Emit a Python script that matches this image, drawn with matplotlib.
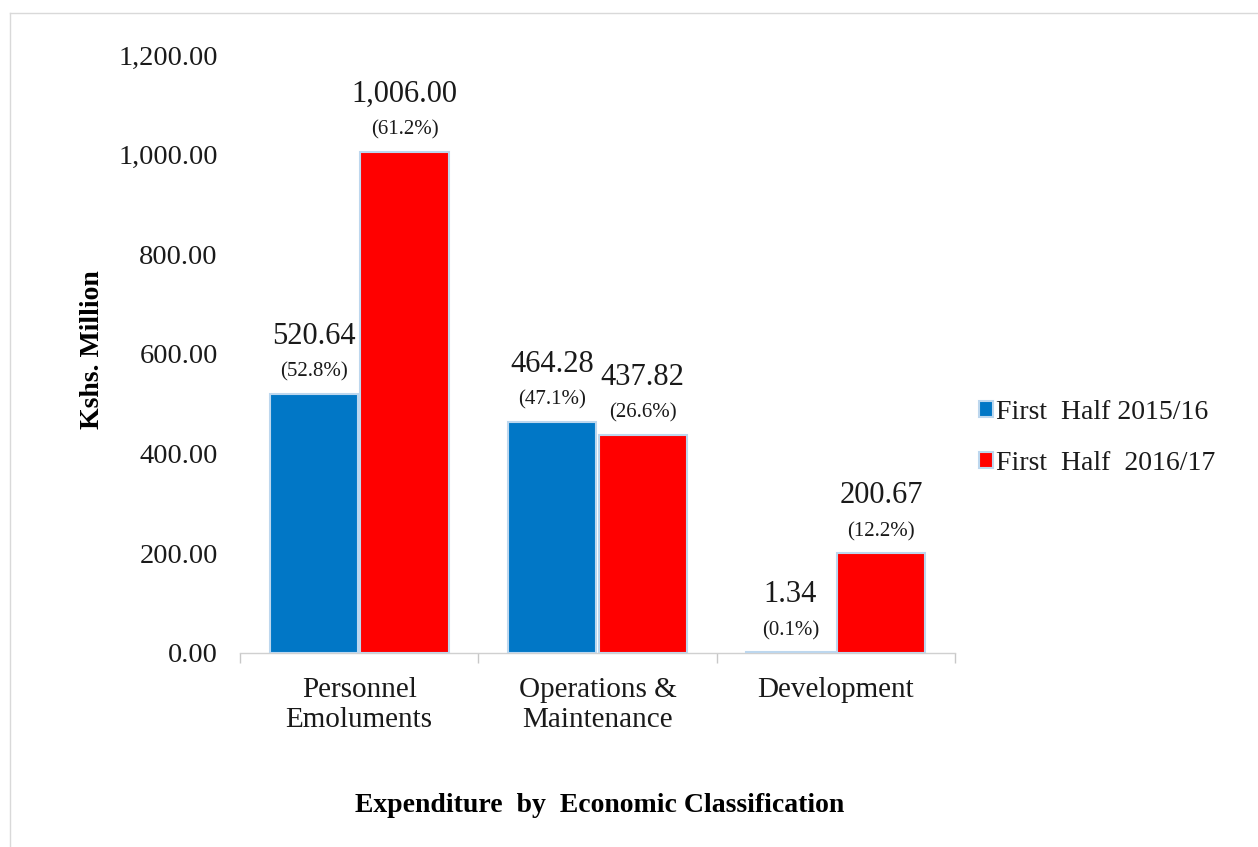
import matplotlib
matplotlib.use("Agg")
import matplotlib.pyplot as plt
from matplotlib.lines import Line2D
from matplotlib.ticker import FuncFormatter, FixedLocator
import numpy as np

categories = ["Personnel\nEmoluments", "Operations &\nMaintenance", "Development"]
series_names = ["First  Half 2015/16", "First  Half  2016/17"]
values_2015 = [520.64, 464.28, 1.34]
values_2016 = [1006.00, 437.82, 200.67]
pct_2015 = ["(52.8%)", "(47.1%)", "(0.1%)"]
pct_2016 = ["(61.2%)", "(26.6%)", "(12.2%)"]
yticks = [0, 200, 400, 600, 800, 1000, 1200]

plt.rcParams["font.family"] = ["Liberation Serif", "DejaVu Serif"]

W, H = 1258, 847
fig = plt.figure(figsize=(W / 100, H / 100), dpi=100)
ax = fig.add_axes([240 / W, 1 - 653 / H, 715 / W, 598 / H])

x = np.arange(len(categories))
bw = 0.37
off = 0.19
colors = ["#0177C6", "#FF0000"]
edge = "#BDD7EE"

b1 = ax.bar(x - off, values_2015, bw, color=colors[0], edgecolor=edge, linewidth=1.5,
            label=series_names[0], zorder=3)
b2 = ax.bar(x + off, values_2016, bw, color=colors[1], edgecolor=edge, linewidth=1.5,
            label=series_names[1], zorder=3)

txtc = "#1a1a1a"
for bars, vals, pcts in [(b1, values_2015, pct_2015), (b2, values_2016, pct_2016)]:
    for rect, v, p in zip(bars, vals, pcts):
        cx = rect.get_x() + rect.get_width() / 2
        top = rect.get_height()
        ax.annotate(p, (cx, top), xytext=(0, 12), textcoords="offset pixels",
                    ha="center", va="bottom", fontsize=15, color=txtc)
        ax.annotate(f"{v:,.2f}", (cx, top), xytext=(0, 43), textcoords="offset pixels",
                    ha="center", va="bottom", fontsize=22, color=txtc)

ax.set_xlim(-0.5, 2.5)
ax.set_ylim(0, 1200)
ax.set_yticks(yticks)
ax.yaxis.set_major_formatter(FuncFormatter(lambda v, _: f"{v:,.2f}"))
ax.tick_params(axis="y", length=0, pad=16, labelsize=20.5, labelcolor=txtc)

ax.set_xticks(x)
ax.set_xticklabels(categories, fontsize=21, color=txtc, linespacing=1.2)
ax.tick_params(axis="x", which="major", length=0, pad=17)
ax.xaxis.set_minor_locator(FixedLocator([-0.5, 0.5, 1.5, 2.5]))
ax.tick_params(axis="x", which="minor", length=7, color="#C8C8C8", width=1)

for s in ["top", "right", "left"]:
    ax.spines[s].set_visible(False)
ax.spines["bottom"].set_color("#D0D0D0")
ax.spines["bottom"].set_linewidth(1)

ax.set_ylabel("Kshs. Million", fontsize=20, fontweight="bold", color="black")
ax.yaxis.set_label_coords((92 - 240) / 715, (653 - 350) / 598)
ax.yaxis.label.set_va("center")

fig.text(600 / W, 1 - 805 / H, "Expenditure  by  Economic Classification", ha="center",
         va="center", fontsize=20, fontweight="bold", color="black")

leg = ax.legend(loc="center left", bbox_to_anchor=(968 / W, 1 - 438 / H),
                bbox_transform=fig.transFigure, frameon=False, fontsize=20,
                handlelength=0.5, handleheight=0.5, handletextpad=0.12,
                labelspacing=0.95, borderaxespad=0)
for t in leg.get_texts():
    t.set_color(txtc)

# outer chart frame
fig.add_artist(Line2D([10 / W, 10 / W], [0, 1 - 13 / H], transform=fig.transFigure,
                      color="#D9D9D9", linewidth=1))
fig.add_artist(Line2D([10 / W, 1], [1 - 13 / H, 1 - 13 / H], transform=fig.transFigure,
                      color="#D9D9D9", linewidth=1))

fig.savefig("out.png", dpi=100)
